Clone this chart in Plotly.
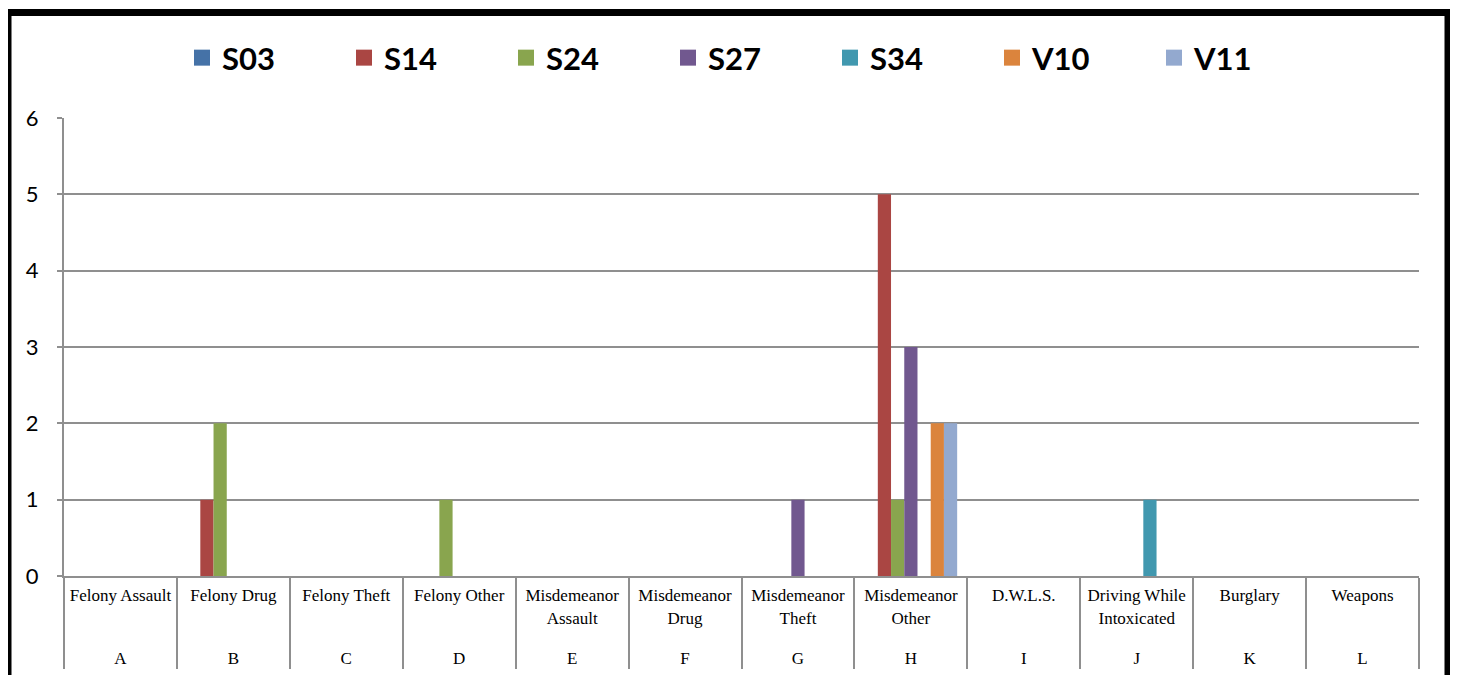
import plotly.graph_objects as go

letters = ["A", "B", "C", "D", "E", "F", "G", "H", "I", "J", "K", "L"]
names = ["Felony Assault", "Felony Drug", "Felony Theft", "Felony Other",
         "Misdemeanor<br>Assault", "Misdemeanor<br>Drug", "Misdemeanor<br>Theft",
         "Misdemeanor<br>Other", "D.W.L.S.", "Driving While<br>Intoxicated",
         "Burglary", "Weapons"]

series_names = ["S03", "S14", "S24", "S27", "S34", "V10", "V11"]
S03 = [0, 0, 0, 0, 0, 0, 0, 0, 0, 0, 0, 0]
S14 = [0, 1, 0, 0, 0, 0, 0, 5, 0, 0, 0, 0]
S24 = [0, 2, 0, 1, 0, 0, 0, 1, 0, 0, 0, 0]
S27 = [0, 0, 0, 0, 0, 0, 1, 3, 0, 0, 0, 0]
S34 = [0, 0, 0, 0, 0, 0, 0, 0, 0, 1, 0, 0]
V10 = [0, 0, 0, 0, 0, 0, 0, 2, 0, 0, 0, 0]
V11 = [0, 0, 0, 0, 0, 0, 0, 2, 0, 0, 0, 0]
values = [S03, S14, S24, S27, S34, V10, V11]
colors = ["#4572A7", "#AA4643", "#89A54E", "#71588F", "#4198AF", "#DB843D", "#93A9CF"]

# inner labels padded with an empty last line so the letter row sits lower
inner = [n + "<br>&nbsp;" if "<br>" in n else n for n in names]

fig = go.Figure()
for nm, vals, c in zip(series_names, values, colors):
    fig.add_bar(x=[letters, inner], y=vals, name=nm, showlegend=False, legendgroup=nm,
                marker=dict(color=c, line=dict(width=0)))
# legend entries with larger square swatches
for nm, c in zip(series_names, colors):
    fig.add_scatter(x=[[None], [None]], y=[None], name=nm, legendgroup=nm, mode="markers",
                    marker=dict(symbol="square", size=16, color=c), showlegend=True,
                    hoverinfo="skip")

# page has an 8px body margin: figure is placed at (8, 8)
OFF = 8
W, H = 1450, 667
L, R, T, B = 56, 39, 110, 99
pw, ph = W - L - R, H - T - B

def px(page_x):
    return (page_x - OFF - L) / pw

def py(page_y):
    return (H - B - (page_y - OFF)) / ph

fig.update_layout(
    width=W, height=H,
    margin=dict(l=L, r=R, t=T, b=B, autoexpand=False),
    paper_bgcolor="white", plot_bgcolor="white",
    barmode="group", bargap=0.18, bargroupgap=0,
    showlegend=True,
    legend=dict(orientation="h", x=px(749), xanchor="center", y=py(58), yanchor="middle",
                font=dict(family="Lato", size=31, color="black", weight="bold"),
                entrywidth=117, entrywidthmode="pixels", itemwidth=30,
                bgcolor="rgba(0,0,0,0)"),
    xaxis=dict(type="multicategory", showline=True, linecolor="#8f8f8f", linewidth=2,
               showdividers=True, dividercolor="#8f8f8f", dividerwidth=2,
               tickangle=0, ticklabelstandoff=3,
               tickfont=dict(family="Liberation Serif", size=17, color="black"),
               showgrid=False),
    yaxis=dict(range=[0, 6], dtick=1, showgrid=True, gridcolor="#8f8f8f", gridwidth=1.5,
               showline=True, linecolor="#8f8f8f", linewidth=2,
               ticks="outside", ticklen=5, tickcolor="#8f8f8f", tickwidth=2,
               ticklabelstandoff=14,
               tickfont=dict(family="Lato", size=22, color="black"),
               zeroline=False),
    shapes=[dict(type="rect", xref="paper", yref="paper",
                 x0=px(8), x1=px(1448), y0=py(720), y1=py(12.5),
                 line=dict(color="black", width=7), fillcolor="rgba(0,0,0,0)", layer="above")],
)

fig.write_html("out.html")
